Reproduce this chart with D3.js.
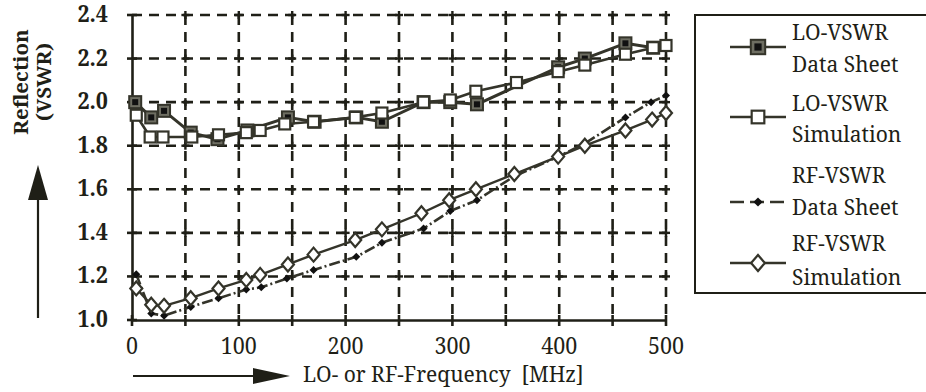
<!DOCTYPE html>
<html>
<head>
<meta charset="utf-8">
<script src="https://cdn.jsdelivr.net/npm/d3@7"></script>
<style>
  html, body { margin: 0; padding: 0; background: #fff; }
  svg { display: block; }
</style>
</head>
<body>
<svg id="chart" width="926" height="392"></svg>
<script>
// LO port VSWR, manufacturer data sheet
const loDataFreq = [3, 18, 30, 55, 80, 108, 146, 171, 210, 234, 273, 298, 323, 399, 424, 462, 488];
const loDataVswr = [2.00, 1.93, 1.96, 1.86, 1.83, 1.87, 1.93, 1.91, 1.93, 1.91, 2.00, 2.00, 1.99, 2.16, 2.20, 2.27, 2.25];
// LO port VSWR, simulation
const loSimFreq = [4, 17, 29, 56, 81, 107, 120, 143, 170, 209, 234, 273, 298, 322, 360, 399, 424, 462, 488, 500];
const loSimVswr = [1.94, 1.84, 1.84, 1.84, 1.85, 1.86, 1.87, 1.90, 1.91, 1.93, 1.95, 2.00, 2.01, 2.05, 2.09, 2.14, 2.17, 2.22, 2.25, 2.26];
// RF port VSWR, manufacturer data sheet
const rfDataFreq = [4, 18, 30, 55, 81, 107, 121, 145, 170, 210, 234, 273, 298, 323, 358, 399, 424, 462, 486, 500];
const rfDataVswr = [1.21, 1.03, 1.02, 1.06, 1.10, 1.14, 1.15, 1.19, 1.23, 1.29, 1.355, 1.42, 1.50, 1.55, 1.66, 1.75, 1.81, 1.93, 2.00, 2.03];
// RF port VSWR, simulation
const rfSimFreq = [4, 18, 30, 55, 81, 107, 120, 146, 170, 209, 234, 271, 297, 322, 358, 399, 424, 462, 487, 500];
const rfSimVswr = [1.145, 1.07, 1.065, 1.10, 1.145, 1.184, 1.207, 1.255, 1.30, 1.367, 1.416, 1.49, 1.55, 1.60, 1.67, 1.75, 1.80, 1.87, 1.92, 1.95];

const xTicks = [0, 100, 200, 300, 400, 500];
const xGrid = [50, 100, 150, 200, 250, 300, 350, 400, 450, 500];
const yTicks = [1.0, 1.2, 1.4, 1.6, 1.8, 2.0, 2.2, 2.4];
const legendLabels = [
  ["LO-VSWR", "Data Sheet"],
  ["LO-VSWR", "Simulation"],
  ["RF-VSWR", "Data Sheet"],
  ["RF-VSWR", "Simulation"]
];

const FONT = "'Noto Serif', 'Liberation Serif', serif";
const ink = "#1f1f17";
const lineInk = "#34342a";
const svg = d3.select("#chart");

const x = d3.scaleLinear().domain([0, 500]).range([132, 666]);
const y = d3.scaleLinear().domain([1.0, 2.4]).range([320, 15]);

// text helper: serif glyphs drawn slightly tall
function label(g, tx, ty, str, opts = {}) {
  return g.append("text")
    .attr("transform", `translate(${tx},${ty}) scale(1,${opts.stretch || 1.1})`)
    .attr("text-anchor", opts.anchor || "start")
    .style("font-family", FONT)
    .style("font-size", (opts.size || 21.5) + "px")
    .style("font-weight", opts.weight || "normal")
    .style("white-space", "pre")
    .attr("fill", ink)
    .text(str);
}

// dashed grid
const grid = svg.append("g").attr("stroke", ink).attr("stroke-width", 2.6).attr("stroke-dasharray", "10,7");
grid.selectAll(".hg").data(yTicks.slice(1)).join("line")
  .attr("x1", x(0)).attr("x2", x(500))
  .attr("y1", d => y(d)).attr("y2", d => y(d));
grid.selectAll(".vg").data(xGrid).join("line")
  .attr("x1", d => x(d)).attr("x2", d => x(d))
  .attr("y1", y(2.4)).attr("y2", y(1.0));

// small crosses where grid lines meet
const cross = svg.append("g").attr("stroke", ink).attr("stroke-width", 2.4);
xGrid.forEach(fx => yTicks.slice(1).forEach(vy => {
  cross.append("line").attr("x1", x(fx) - 4).attr("x2", x(fx) + 4).attr("y1", y(vy)).attr("y2", y(vy));
  cross.append("line").attr("x1", x(fx)).attr("x2", x(fx)).attr("y1", y(vy) - 4).attr("y2", y(vy) + 4);
}));

// solid axes with tick marks
const yAxisG = svg.append("g").attr("transform", `translate(${x(0)},0)`)
  .call(d3.axisLeft(y).tickValues(yTicks).tickSize(0).tickFormat(""));
yAxisG.select(".domain").attr("stroke", ink).attr("stroke-width", 2.6);
const xAxisG = svg.append("g").attr("transform", `translate(0,${y(1.0)})`)
  .call(d3.axisBottom(x).tickValues([0].concat(xGrid)).tickSize(0).tickFormat(""));
xAxisG.select(".domain").attr("stroke", ink).attr("stroke-width", 2.6);
const tk = svg.append("g").attr("stroke", ink).attr("stroke-width", 2.6);
yTicks.forEach(v => tk.append("line").attr("x1", x(0) - 5).attr("x2", x(0) + 5).attr("y1", y(v)).attr("y2", y(v)));
[0].concat(xGrid).forEach(f => tk.append("line").attr("x1", x(f)).attr("x2", x(f)).attr("y1", y(1.0) - 5).attr("y2", y(1.0) + 6));

// tick labels
const lbl = svg.append("g");
yTicks.forEach(v => label(lbl, 108, y(v) + 7, v.toFixed(1), { anchor: "end", weight: "bold", size: 21.5 }));
xTicks.forEach(f => label(lbl, x(f), 354, String(f), { anchor: "middle", size: 21.5 }));

// axis titles
label(lbl, 303, 382, "LO- or RF-Frequency  [MHz]", { size: 21, stretch: 1.0 });
[["Reflection", 28], ["(VSWR)", 51]].forEach(([t, bx]) => {
  svg.append("text").attr("transform", `translate(${bx},82) rotate(-90)`).attr("text-anchor", "middle")
    .style("font-family", FONT).style("font-size", "20.5px").style("font-weight", "bold")
    .attr("fill", ink).text(t);
});

// direction arrows
const arr = svg.append("g").attr("fill", ink).attr("stroke", ink);
arr.append("line").attr("x1", 38).attr("x2", 38).attr("y1", 318).attr("y2", 198).attr("stroke-width", 2.2);
arr.append("path").attr("d", "M28,200 L48,200 L38,165 Z").attr("stroke", "none");
arr.append("line").attr("x1", 133).attr("x2", 256).attr("y1", 376).attr("y2", 376).attr("stroke-width", 2.2);
arr.append("path").attr("d", "M253,368 L253,384 L290,376 Z").attr("stroke", "none");

// series
const lineGen = d3.line().x(d => x(d[0])).y(d => y(d[1]));
const zip = (a, b) => a.map((v, i) => [v, b[i]]);

const series = [
  { pts: zip(loDataFreq, loDataVswr), dash: null, width: 3, marker: "fsq" },
  { pts: zip(loSimFreq, loSimVswr), dash: null, width: 2.6, marker: "osq" },
  { pts: zip(rfDataFreq, rfDataVswr), dash: "11,3,2,3", width: 2.6, marker: "fdi" },
  { pts: zip(rfSimFreq, rfSimVswr), dash: null, width: 2.4, marker: "odi" }
];

function drawMarker(g, type, cx, cy, scale = 1) {
  if (type === "fsq") {
    const s = 6 * scale;
    g.append("rect").attr("x", cx - s).attr("y", cy - s).attr("width", 2 * s).attr("height", 2 * s)
      .attr("fill", "#6e6e62").attr("stroke", lineInk).attr("stroke-width", 2);
    g.append("rect").attr("x", cx - s * 0.5).attr("y", cy - s * 0.5).attr("width", s).attr("height", s).attr("fill", "#111");
  } else if (type === "osq") {
    const s = 5.5 * scale;
    g.append("rect").attr("x", cx - s).attr("y", cy - s).attr("width", 2 * s).attr("height", 2 * s)
      .attr("fill", "#fff").attr("stroke", lineInk).attr("stroke-width", 2.2);
  } else if (type === "fdi") {
    const s = 4 * scale;
    g.append("path").attr("d", `M${cx},${cy - s} L${cx + s},${cy} L${cx},${cy + s} L${cx - s},${cy} Z`).attr("fill", "#111");
  } else {
    const w = 6 * scale, h = 7 * scale;
    g.append("path").attr("d", `M${cx},${cy - h} L${cx + w},${cy} L${cx},${cy + h} L${cx - w},${cy} Z`)
      .attr("fill", "#fff").attr("stroke", lineInk).attr("stroke-width", 2.2);
  }
}

series.forEach(s => {
  svg.append("path").datum(s.pts).attr("d", lineGen).attr("fill", "none")
    .attr("stroke", lineInk).attr("stroke-width", s.width)
    .attr("stroke-dasharray", s.dash).attr("stroke-linejoin", "round");
});
series.forEach(s => {
  const g = svg.append("g");
  s.pts.forEach(p => drawMarker(g, s.marker, x(p[0]), y(p[1])));
});

// legend
const leg = svg.append("g");
leg.append("rect").attr("x", 695).attr("y", 15).attr("width", 260).attr("height", 278)
  .attr("fill", "#fff").attr("stroke", ink).attr("stroke-width", 2);
const legY = [47, 117, 202, 263];
const legText = [[32, 64], [103, 134], [175, 207], [243, 277]];
series.forEach((s, i) => {
  leg.append("line").attr("x1", 730).attr("x2", 786).attr("y1", legY[i]).attr("y2", legY[i])
    .attr("stroke", lineInk).attr("stroke-width", 2.4)
    .attr("stroke-dasharray", s.dash ? "14,6" : null);
  drawMarker(leg, s.marker, 758, legY[i], s.marker === "fsq" ? 1.2 : 1.15);
  label(leg, 792, legText[i][0] + 8, legendLabels[i][0], { size: 21, stretch: 1.05 });
  label(leg, 792, legText[i][1] + 8, legendLabels[i][1], { size: 21, stretch: 1.05 });
});
</script>
</body>
</html>
